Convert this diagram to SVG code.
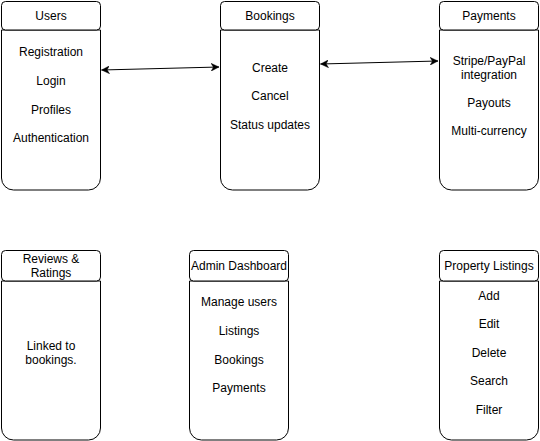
<svg xmlns="http://www.w3.org/2000/svg" width="540" height="441" viewBox="0 0 540 441">
<style>
.body{fill:#fff;stroke:#000;stroke-width:1}
.hdr{fill:#fff;stroke:#000;stroke-width:1}
text{font-family:"Liberation Sans",Arial,Helvetica,sans-serif;font-size:12px;fill:#000;text-anchor:middle}
.edge{stroke:#000;stroke-width:1;fill:none}
</style>
<defs>
<marker id="ah" viewBox="0 0 10 10" refX="10" refY="5" markerWidth="8" markerHeight="8" markerUnits="userSpaceOnUse" orient="auto-start-reverse">
<path d="M0,0 L10,5 L0,10 L3,5 Z" fill="#000" stroke="#000" stroke-width="0.5"/>
</marker>
</defs>
<rect width="540" height="441" fill="#fff"/>
<g id="connectors">
<line class="edge" x1="101.5" y1="70" x2="219" y2="67" marker-start="url(#ah)" marker-end="url(#ah)"/>
<line class="edge" x1="320.5" y1="64" x2="438" y2="61" marker-start="url(#ah)" marker-end="url(#ah)"/>
</g>
<g id="users">
<path class="body" d="M1.5,30 V178 A12,12 0 0 0 13.5,190 H88.5 A12,12 0 0 0 100.5,178 V30 Z"/>
<rect class="hdr" x="1.5" y="1.5" width="99" height="28.5" rx="4"/>
<text x="51" y="20">Users</text>
<text x="51" y="56">Registration</text>
<text x="51" y="85">Login</text>
<text x="51" y="114">Profiles</text>
<text x="51" y="142">Authentication</text>
</g>
<g id="bookings">
<path class="body" d="M220.5,30 V178 A12,12 0 0 0 232.5,190 H307.5 A12,12 0 0 0 319.5,178 V30 Z"/>
<rect class="hdr" x="220.5" y="1.5" width="99" height="28.5" rx="4"/>
<text x="270" y="20">Bookings</text>
<text x="270" y="72">Create</text>
<text x="270" y="100">Cancel</text>
<text x="270" y="129">Status updates</text>
</g>
<g id="payments">
<path class="body" d="M439.5,30 V178 A12,12 0 0 0 451.5,190 H526.5 A12,12 0 0 0 538.5,178 V30 Z"/>
<rect class="hdr" x="439.5" y="1.5" width="99" height="28.5" rx="4"/>
<text x="489" y="20">Payments</text>
<text x="489" y="65">Stripe/PayPal</text>
<text x="489" y="79">integration</text>
<text x="489" y="107">Payouts</text>
<text x="489" y="135">Multi-currency</text>
</g>
<g id="reviews">
<path class="body" d="M1.5,281 V428 A12,12 0 0 0 13.5,440 H88.5 A12,12 0 0 0 100.5,428 V281 Z"/>
<rect class="hdr" x="1.5" y="250.5" width="99" height="30.5" rx="4"/>
<text x="51" y="263">Reviews &amp;</text>
<text x="51" y="277">Ratings</text>
<text x="51" y="350">Linked to</text>
<text x="51" y="364">bookings.</text>
</g>
<g id="admin">
<path class="body" d="M189.5,281 V428 A12,12 0 0 0 201.5,440 H276.5 A12,12 0 0 0 288.5,428 V281 Z"/>
<rect class="hdr" x="189.5" y="250.5" width="99" height="30.5" rx="4"/>
<text x="239" y="270">Admin Dashboard</text>
<text x="239" y="306">Manage users</text>
<text x="239" y="335">Listings</text>
<text x="239" y="364">Bookings</text>
<text x="239" y="392">Payments</text>
</g>
<g id="listings">
<path class="body" d="M439.5,281 V428 A12,12 0 0 0 451.5,440 H526.5 A12,12 0 0 0 538.5,428 V281 Z"/>
<rect class="hdr" x="439.5" y="250.5" width="99" height="30.5" rx="4"/>
<text x="489" y="270">Property Listings</text>
<text x="489" y="300">Add</text>
<text x="489" y="328">Edit</text>
<text x="489" y="357">Delete</text>
<text x="489" y="385">Search</text>
<text x="489" y="414">Filter</text>
</g>
</svg>
